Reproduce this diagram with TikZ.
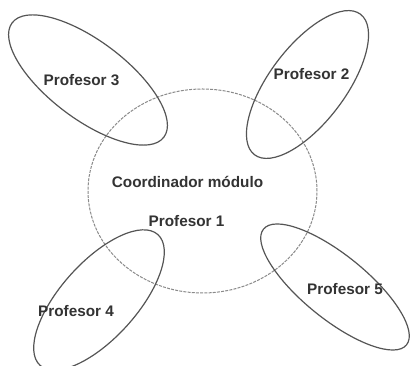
\documentclass[tikz,border=0pt]{standalone}
\usepackage{fontspec}
\setmainfont{Liberation Sans}
\definecolor{inkline}{HTML}{555555}
\definecolor{inktext}{HTML}{333333}
\definecolor{dashline}{HTML}{8A8A8A}
\begin{document}
\begin{tikzpicture}[x=1pt,y=1pt,
  petal/.style={draw=inkline,line width=1.2pt},
  core/.style={draw=dashline,line width=1pt,dash pattern=on 3pt off 1.2pt},
  lbl/.style={font=\bfseries\fontsize{15.3}{17}\selectfont,text=inktext,anchor=base,inner sep=0pt}]
\useasboundingbox[fill=white] (0,0) rectangle (410,366);
\clip (0,0) rectangle (410,366);
% central circle
\draw[core] (202.5,175) ellipse [x radius=114.5, y radius=102];
% petals
\draw[petal] (88,286) ellipse [x radius=95, y radius=39, rotate=-37];
\draw[petal] (307.5,281.5) ellipse [x radius=88, y radius=38, rotate=53];
\draw[petal] (99,66) ellipse [x radius=88, y radius=38, rotate=48];
\draw[petal] (335,79) ellipse [x radius=92, y radius=32, rotate=-39];
% labels
\node[lbl] (p3) at (81.5,280) {Profesor 3};
\node[lbl] (p2) at (311.5,286) {Profesor 2};
\node[lbl] (coord) at (187.5,178) {Coordinador módulo};
\node[lbl] (p1) at (186.5,139) {Profesor 1};
\node[lbl] (p4) at (76,49) {Profesor 4};
\node[lbl] (p5) at (345,71) {Profesor 5};
\end{tikzpicture}
\end{document}
